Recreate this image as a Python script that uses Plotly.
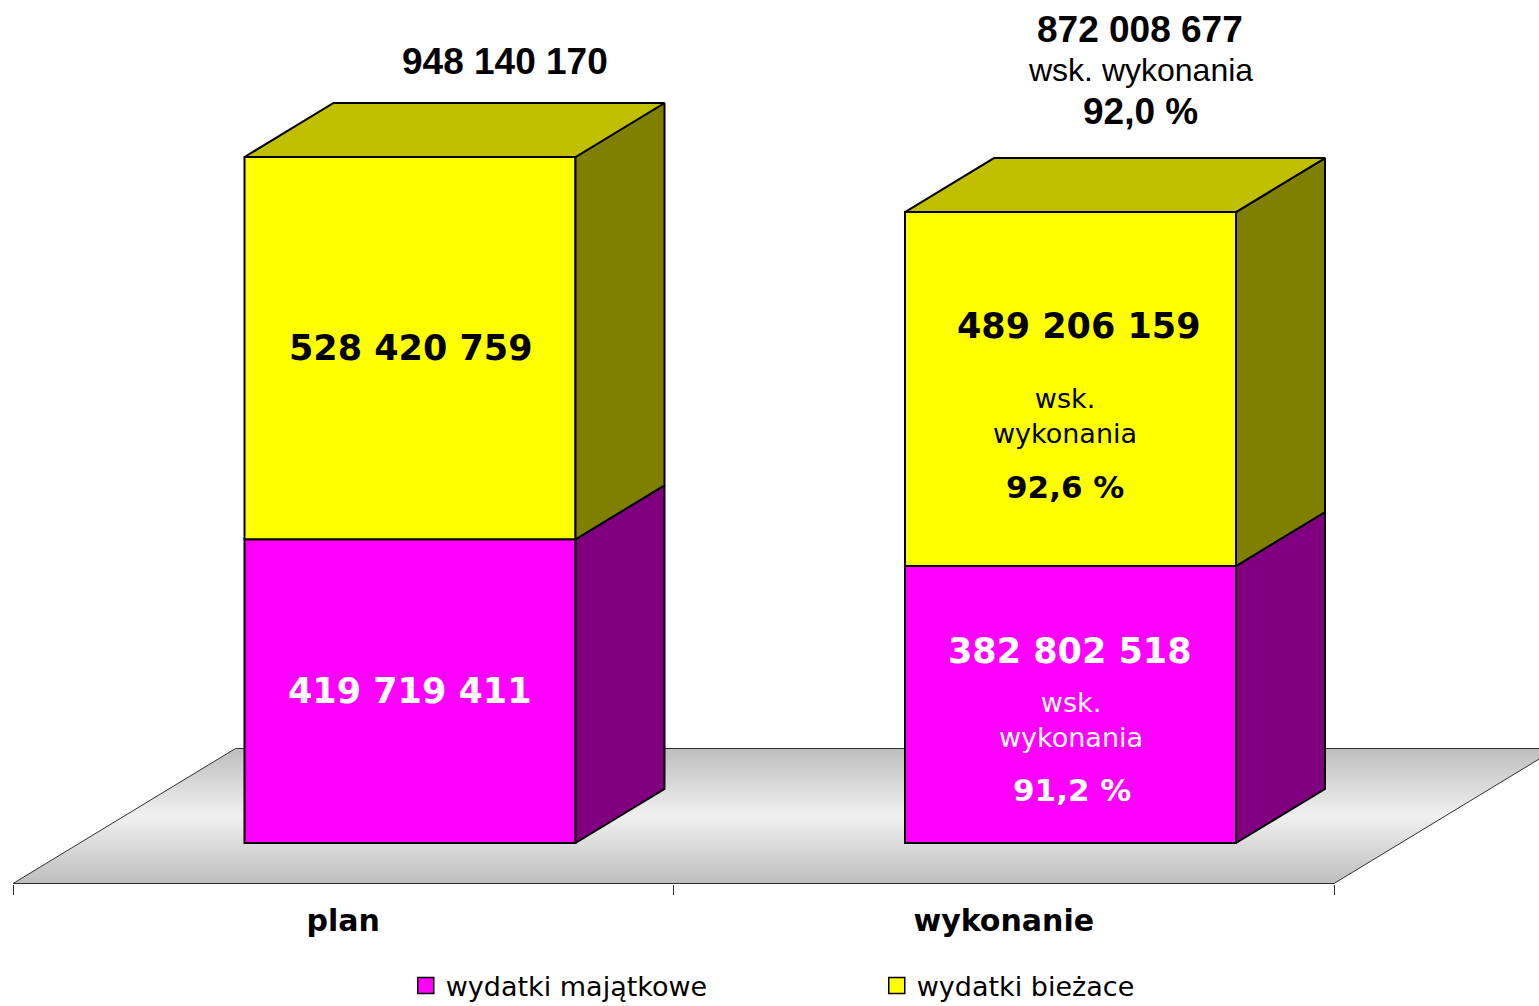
import plotly.graph_objects as go

# ---------------- data ----------------
categories = ["plan", "wykonanie"]
series_names = ["wydatki majątkowe", "wydatki bieżace"]
majatkowe = [419719411, 382802518]
biezace = [528420759, 489206159]
wsk_label = "wsk. wykonania"

# ---------------- styling / geometry ----------------
W_PX, H_PX = 1539, 1006
MARGIN_B = 122
PLOT_H = H_PX - MARGIN_B
PX_PER_CAT = 660.5
PX_PER_UNIT = 686 / 948140170
BASE_PX = 843            # pixel row of value 0 (bar front bottom)
FLOOR_LEFT_PX = 13       # pixel column of floor front-left corner (x=-0.5)

DEPTH_DX_PX, DEPTH_DY_PX = 89, 54
DDX = DEPTH_DX_PX / PX_PER_CAT
DDY = DEPTH_DY_PX / PX_PER_UNIT
FRONT_D = 0.75           # bar front plane depth behind floor front
BAR_W = 331 / PX_PER_CAT

XR = [-0.5 - FLOOR_LEFT_PX / PX_PER_CAT, -0.5 + (W_PX - FLOOR_LEFT_PX) / PX_PER_CAT]
YR = [-(PLOT_H - BASE_PX) / PX_PER_UNIT, BASE_PX / PX_PER_UNIT]

FRONT_COL = ["#FF00FF", "#FFFF00"]
SIDE_COL = ["#800080", "#808000"]
TOP_COL = ["#C000C0", "#C0C000"]

def proj(x, v, d):
    return x + (d + FRONT_D) * DDX, v + d * DDY

fig = go.Figure()

# floor (main subplot, drawn below everything)
fl = [proj(-0.5, 0, -FRONT_D), proj(1.5, 0, -FRONT_D), proj(1.5, 0, 1 + FRONT_D),
      proj(-0.5, 0, 1 + FRONT_D), proj(-0.5, 0, -FRONT_D)]
fig.add_trace(go.Scatter(
    x=[p[0] for p in fl], y=[p[1] for p in fl], mode="lines", fill="toself",
    fillgradient=dict(type="vertical",
                      colorscale=[[0, "#BEBEBE"], [0.5, "#F0F0F0"], [1, "#BEBEBE"]]),
    line=dict(color="#303030", width=1), hoverinfo="skip", showlegend=False))

series = [majatkowe, biezace]
bases = [[0, 0], majatkowe]
idx = list(range(len(categories)))
centers = [i + FRONT_D * DDX for i in idx]

# front faces as bars (overlay subplot)
for s, (vals, base) in enumerate(zip(series, bases)):
    fig.add_trace(go.Bar(
        x=idx, y=vals, base=base, width=BAR_W, offset=FRONT_D * DDX - BAR_W / 2,
        marker=dict(color=FRONT_COL[s], line=dict(color="black", width=2)),
        name=series_names[s], showlegend=False, xaxis="x2", yaxis="y2",
        hoverinfo="skip"))

# side and top faces
for i in idx:
    xl = centers[i] - BAR_W / 2
    xr = centers[i] + BAR_W / 2
    for s in range(len(series)):
        v0 = bases[s][i]
        v1 = v0 + series[s][i]
        xs = [xr, xr + DDX, xr + DDX, xr, xr]
        ys = [v0, v0 + DDY, v1 + DDY, v1, v0]
        fig.add_trace(go.Scatter(x=xs, y=ys, mode="lines", fill="toself",
                                 fillcolor=SIDE_COL[s], line=dict(color="black", width=2),
                                 xaxis="x2", yaxis="y2", hoverinfo="skip", showlegend=False))
    vt = majatkowe[i] + biezace[i]
    xs = [xl, xl + DDX, xr + DDX, xr, xl]
    ys = [vt, vt + DDY, vt + DDY, vt, vt]
    fig.add_trace(go.Scatter(x=xs, y=ys, mode="lines", fill="toself",
                             fillcolor=TOP_COL[1], line=dict(color="black", width=2),
                             xaxis="x2", yaxis="y2", hoverinfo="skip", showlegend=False))

# legend entries
for s in range(len(series)):
    fig.add_trace(go.Scatter(x=[None], y=[None], mode="markers", name=series_names[s],
                             marker=dict(symbol="square", size=16, color=FRONT_COL[s],
                                         line=dict(color="black", width=1.5)),
                             xaxis="x2", yaxis="y2"))

# ---------------- annotations ----------------
def fmt(v):
    return f"{v:,}".replace(",", " ")

def pct(a, b):
    return f"{a / b * 100:.1f}".replace(".", ",") + " %"

anns = []
def ann(i, v, ox, oy, text, family, size, color, bold=False):
    t = f"<b>{text}</b>" if bold else text
    anns.append(dict(x=centers[i] + ox / PX_PER_CAT, y=v - oy / PX_PER_UNIT,
                     xref="x2", yref="y2", text=t, showarrow=False,
                     font=dict(family=family, size=size, color=color),
                     xanchor="center", yanchor="middle", align="center"))

NUMF = "DejaVu Sans"
TOPF = "Liberation Sans, Arial"
totals = [m + b for m, b in zip(majatkowe, biezace)]

# plan
ann(0, totals[0], 95, -96, fmt(totals[0]), TOPF, 37, "black", True)
ann(0, majatkowe[0] + biezace[0] / 2, 1, 0, fmt(biezace[0]), NUMF, 35, "black", True)
ann(0, majatkowe[0] / 2, 0, 0, fmt(majatkowe[0]), NUMF, 35, "white", True)

# wykonanie
ann(1, totals[1], 69.5, -183, fmt(totals[1]), TOPF, 37, "black", True)
ann(1, totals[1], 69.5, -142, wsk_label, TOPF, 32, "black")
ann(1, totals[1], 69.5, -101, pct(totals[1], totals[0]), TOPF, 37, "black", True)

yc = majatkowe[1] + biezace[1] / 2
ann(1, yc, 8, -63, fmt(biezace[1]), NUMF, 35, "black", True)
ann(1, yc, -6, 27, wsk_label.replace(" ", "<br>"), NUMF, 27, "black")
ann(1, yc, -6, 98, pct(biezace[1], biezace[0]), NUMF, 31, "black", True)

mc = majatkowe[1] / 2
ann(1, mc, -1, -54, fmt(majatkowe[1]), NUMF, 35, "white", True)
ann(1, mc, 0, 15, wsk_label.replace(" ", "<br>"), NUMF, 27, "white")
ann(1, mc, 1, 85, pct(majatkowe[1], majatkowe[0]), NUMF, 31, "white", True)

fig.update_layout(
    width=W_PX, height=H_PX,
    margin=dict(l=0, r=0, t=0, b=MARGIN_B, pad=0, autoexpand=False),
    paper_bgcolor="white", plot_bgcolor="white",
    barmode="overlay",
    showlegend=True,
    legend=dict(orientation="h", x=0.5697, xanchor="center",
                y=-(986 - PLOT_H) / PLOT_H, yanchor="middle",
                font=dict(family="DejaVu Sans", size=27, color="black"),
                entrywidth=426, entrywidthmode="pixels", itemsizing="trace",
                bgcolor="rgba(0,0,0,0)"),
    xaxis=dict(range=XR, tickmode="array", tickvals=idx,
               ticktext=[f"<b>{c}</b>" for c in categories],
               ticks="", showgrid=False, zeroline=False, showline=False,
               tickfont=dict(family="DejaVu Sans", size=30, color="black"),
               ticklabelstandoff=16,
               minor=dict(tickmode="array", tickvals=[i - 0.5 for i in idx] + [idx[-1] + 0.5],
                          ticks="outside", ticklen=10, tickwidth=1, tickcolor="#303030",
                          showgrid=False),
               automargin=False, fixedrange=True),
    yaxis=dict(range=YR, visible=False, fixedrange=True),
    xaxis2=dict(range=XR, overlaying="x", visible=False, fixedrange=True),
    yaxis2=dict(range=YR, overlaying="y", visible=False, fixedrange=True),
    annotations=anns,
)

fig.write_html("out.html", config={"displayModeBar": False},
               post_script="document.body.style.margin='0';")
